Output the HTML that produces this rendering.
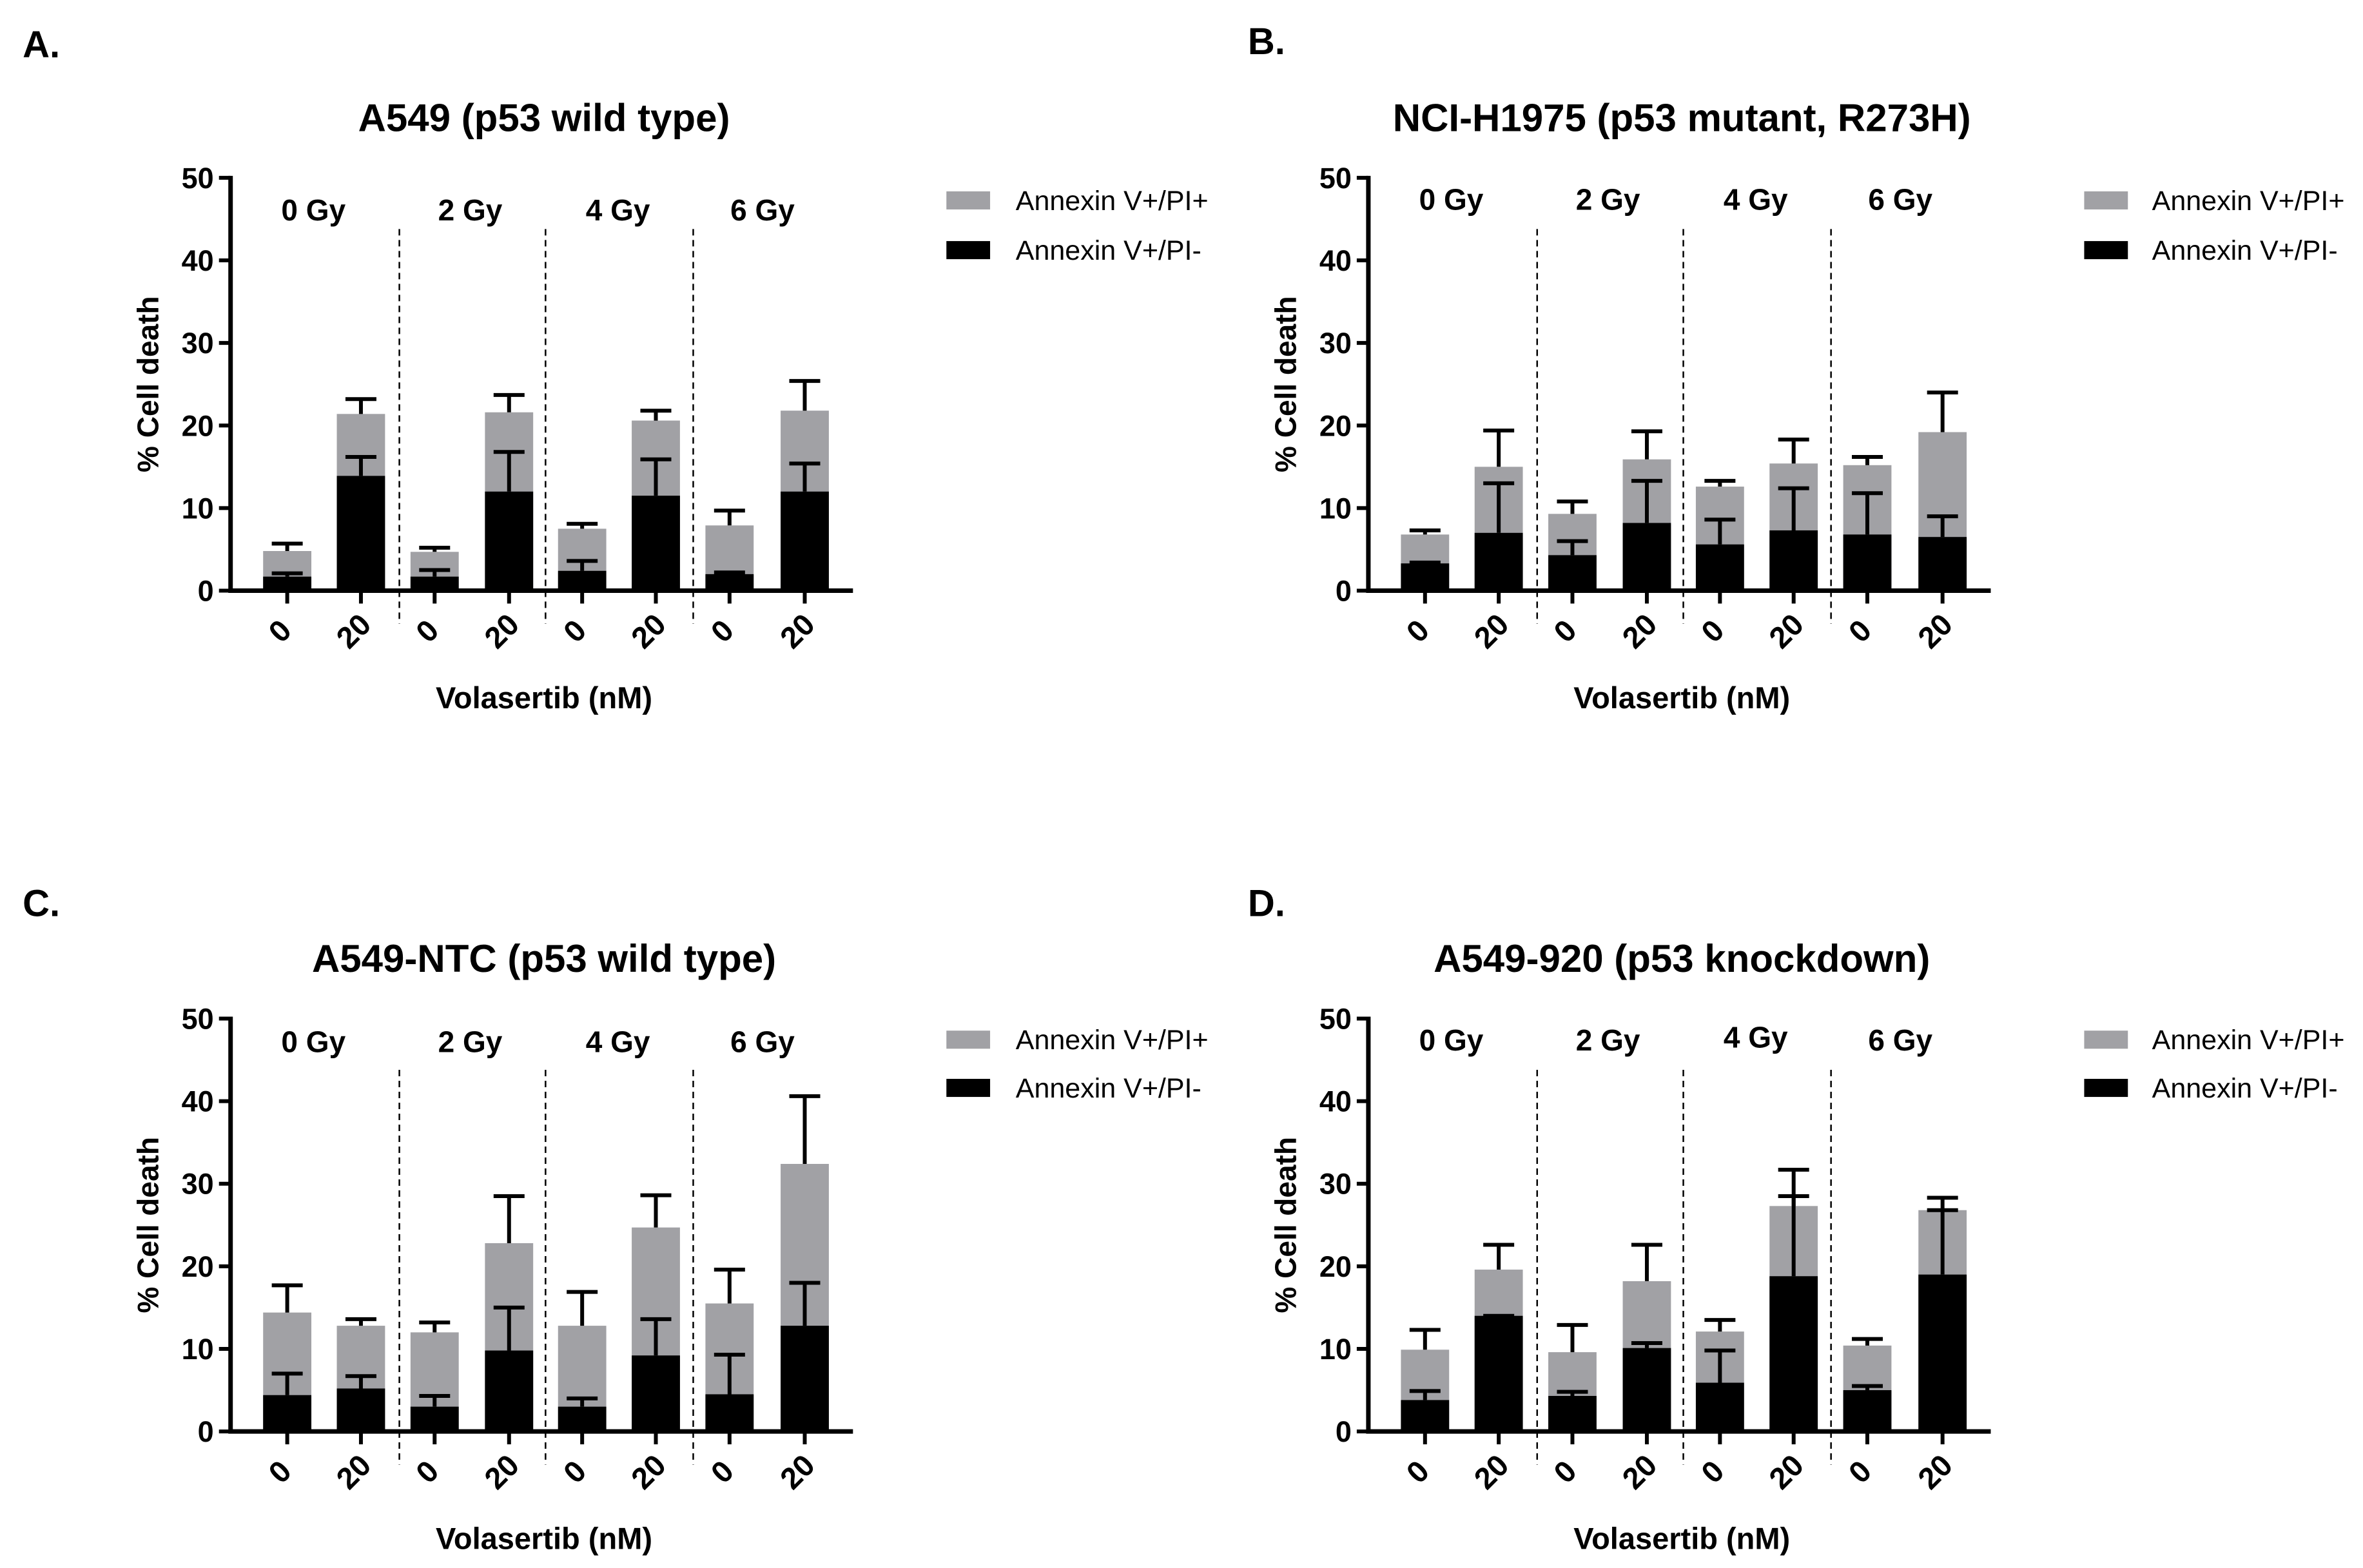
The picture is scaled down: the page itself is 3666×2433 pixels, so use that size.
<!DOCTYPE html>
<html><head><meta charset="utf-8"><style>
html,body{margin:0;padding:0;background:#fff}
svg{display:block;font-family:"Liberation Sans",Arial,sans-serif}
</style></head><body>
<svg id="fig" width="3666" height="2433" viewBox="0 0 3666 2433" xmlns="http://www.w3.org/2000/svg"></svg>
<script>
const categories = ["0","20","0","20","0","20","0","20"];
const doseLabels = ["0 Gy","2 Gy","4 Gy","6 Gy"];
const yTicks = [0,10,20,30,40,50];
const panelTitles = ["A549 (p53 wild type)","NCI-H1975 (p53 mutant, R273H)","A549-NTC (p53 wild type)","A549-920 (p53 knockdown)"];
const panelLetters = ["A.","B.","C.","D."];
const totalA = [4.8,21.4,4.7,21.6,7.5,20.6,7.9,21.8];
const totalErrA = [5.7,23.2,5.2,23.7,8.1,21.8,9.7,25.4];
const blackA = [1.7,13.9,1.7,12.0,2.4,11.5,2.0,12.0];
const blackErrA = [2.1,16.2,2.5,16.8,3.6,15.9,2.2,15.4];
const totalB = [6.8,15.0,9.3,15.9,12.6,15.4,15.2,19.2];
const totalErrB = [7.3,19.4,10.8,19.3,13.3,18.3,16.2,24.0];
const blackB = [3.3,7.0,4.3,8.2,5.6,7.3,6.8,6.5];
const blackErrB = [3.4,13.0,6.0,13.3,8.6,12.4,11.8,9.0];
const totalC = [14.4,12.8,12.0,22.8,12.8,24.7,15.5,32.4];
const totalErrC = [17.7,13.6,13.2,28.5,16.9,28.6,19.6,40.6];
const blackC = [4.4,5.2,3.0,9.8,3.0,9.2,4.5,12.8];
const blackErrC = [7.0,6.7,4.3,15.0,4.0,13.6,9.3,18.0];
const totalD = [9.9,19.6,9.6,18.2,12.1,27.3,10.4,26.8];
const totalErrD = [12.3,22.6,12.9,22.6,13.5,31.7,11.2,28.3];
const blackD = [3.8,14.0,4.3,10.1,5.9,18.8,5.0,19.0];
const blackErrD = [4.9,14.0,4.8,10.7,9.8,28.5,5.5,26.8];

const svg = document.getElementById('fig');
const NS = "http://www.w3.org/2000/svg";
function mk(tag, attrs, parent, text){
  const e = document.createElementNS(NS, tag);
  for (const k in attrs) e.setAttribute(k, attrs[k]);
  if (text !== undefined) e.textContent = text;
  (parent||svg).appendChild(e);
  return e;
}
const S = 2.338;
const panels = [
  {dx:0, dy:0, tot:totalA, totE:totalErrA, blk:blackA, blkE:blackErrA},
  {dx:755, dy:0, tot:totalB, totE:totalErrB, blk:blackB, blkE:blackErrB},
  {dx:0, dy:558, tot:totalC, totE:totalErrC, blk:blackC, blkE:blackErrC},
  {dx:755, dy:558, tot:totalD, totE:totalErrD, blk:blackD, blkE:blackErrD}
];
const gyY = [[139,139,139,139],[132,132,132,132],[691,691,691,691],[690,690,688,690]];
const letterX = [15,828,15,828];
const letterY = [38,36,608,608];
panels.forEach((p, pi) => {
  const g = mk('g', {});
  
  
  const ax = (153 + p.dx) * S, y0 = (392 + p.dy) * S, y50 = (118 + p.dy) * S, xEnd = (566 + p.dx) * S;
  const yS = v => y0 - (y0 - y50) * v / 50;
  const offs = [37.6,86.5,135.4,184.8,233.3,282.2,331.1,381];
  const xS = i => ax + offs[i] * S;
  const bw = 32 * S;
  let t;
  t = mk('text', {x:letterX[pi]*S, y:letterY[pi]*S, 'font-size':58, 'font-weight':'bold'}, g, panelLetters[pi]);
  
  
  t = mk('text', {x:(361+p.dx)*S, y:(87+p.dy)*S, 'font-size':60, 'font-weight':'bold', 'text-anchor':'middle'}, g, panelTitles[pi]);
  
  
  for (let i = 0; i < 8; i++) {
    const cx = xS(i);
    let r = mk('rect', {x:cx-bw/2, y:yS(p.tot[i]), width:bw, height:y0-yS(p.tot[i]), fill:'#a1a1a5'}, g);
    
    
    let e = mk('path', {d:`M${cx} ${yS(p.tot[i])}V${yS(p.totE[i])}M${cx-24} ${yS(p.totE[i])}H${cx+24}`, stroke:'#000', 'stroke-width':6, fill:'none'}, g);
    
    
    r = mk('rect', {x:cx-bw/2, y:yS(p.blk[i]), width:bw, height:y0-yS(p.blk[i]), fill:'#000'}, g);
    
    
    e = mk('path', {d:`M${cx} ${yS(p.blk[i])}V${yS(p.blkE[i])}M${cx-24} ${yS(p.blkE[i])}H${cx+24}`, stroke:'#000', 'stroke-width':6, fill:'none'}, g);
    
    
    mk('line', {x1:cx, x2:cx, y1:y0, y2:y0+20, stroke:'#000', 'stroke-width':6}, g);
    t = mk('text', {x:0, y:0, 'font-size':47, 'font-weight':'bold', 'text-anchor':'middle', transform:`translate(${cx},${y0+74}) rotate(-45)`}, g, categories[i]);
    
    
  }
  [265,362,460].forEach(d => {
    const l = mk('line', {x1:(d+p.dx)*S, x2:(d+p.dx)*S, y1:(152+p.dy)*S, y2:(414+p.dy)*S, stroke:'#000', 'stroke-width':2.5, 'stroke-dasharray':'10,7'}, g);
    
    
  });
  const gx = [208,312,410,506];
  doseLabels.forEach((d, i) => {
    t = mk('text', {x:(gx[i]+p.dx)*S, y:gyY[pi][i]*S+17, 'font-size':46, 'font-weight':'bold', 'text-anchor':'middle'}, g, d);
    
    
  });
  let a = mk('path', {d:`M${ax} ${y50-3}V${y0}H${xEnd}`, stroke:'#000', 'stroke-width':7, fill:'none'}, g);
  
  
  yTicks.forEach(v => {
    mk('line', {x1:ax-18, x2:ax, y1:yS(v), y2:yS(v), stroke:'#000', 'stroke-width':6}, g);
    t = mk('text', {x:ax-26, y:yS(v)+16, 'font-size':45, 'font-weight':'bold', 'text-anchor':'end'}, g, String(v));
    
    
  });
  t = mk('text', {x:0, y:0, 'font-size':46, 'font-weight':'bold', 'text-anchor':'middle', transform:`translate(${(105+p.dx)*S},${(255+p.dy)*S}) rotate(-90)`}, g, '% Cell death');
  
  
  t = mk('text', {x:(361+p.dx)*S, y:(470+p.dy)*S, 'font-size':47, 'font-weight':'bold', 'text-anchor':'middle'}, g, 'Volasertib (nM)');
  
  
  const lx = pi % 2 ? 1383 : 628, ly1 = pi < 2 ? 133 : 690, ly2 = pi < 2 ? 166 : 722;
  const tx = pi % 2 ? 1428 : 674;
  [[ly1,'#a1a1a5','Annexin V+/PI+'],[ly2,'#000','Annexin V+/PI-']].forEach(([yy, c, lab]) => {
    const r = mk('rect', {x:lx*S, y:(yy-6)*S, width:29*S, height:12*S, fill:c}, g);
    
    
    t = mk('text', {x:tx*S, y:yy*S+15, 'font-size':43}, g, lab);
    
    
  });
});
</script>
</body></html>
